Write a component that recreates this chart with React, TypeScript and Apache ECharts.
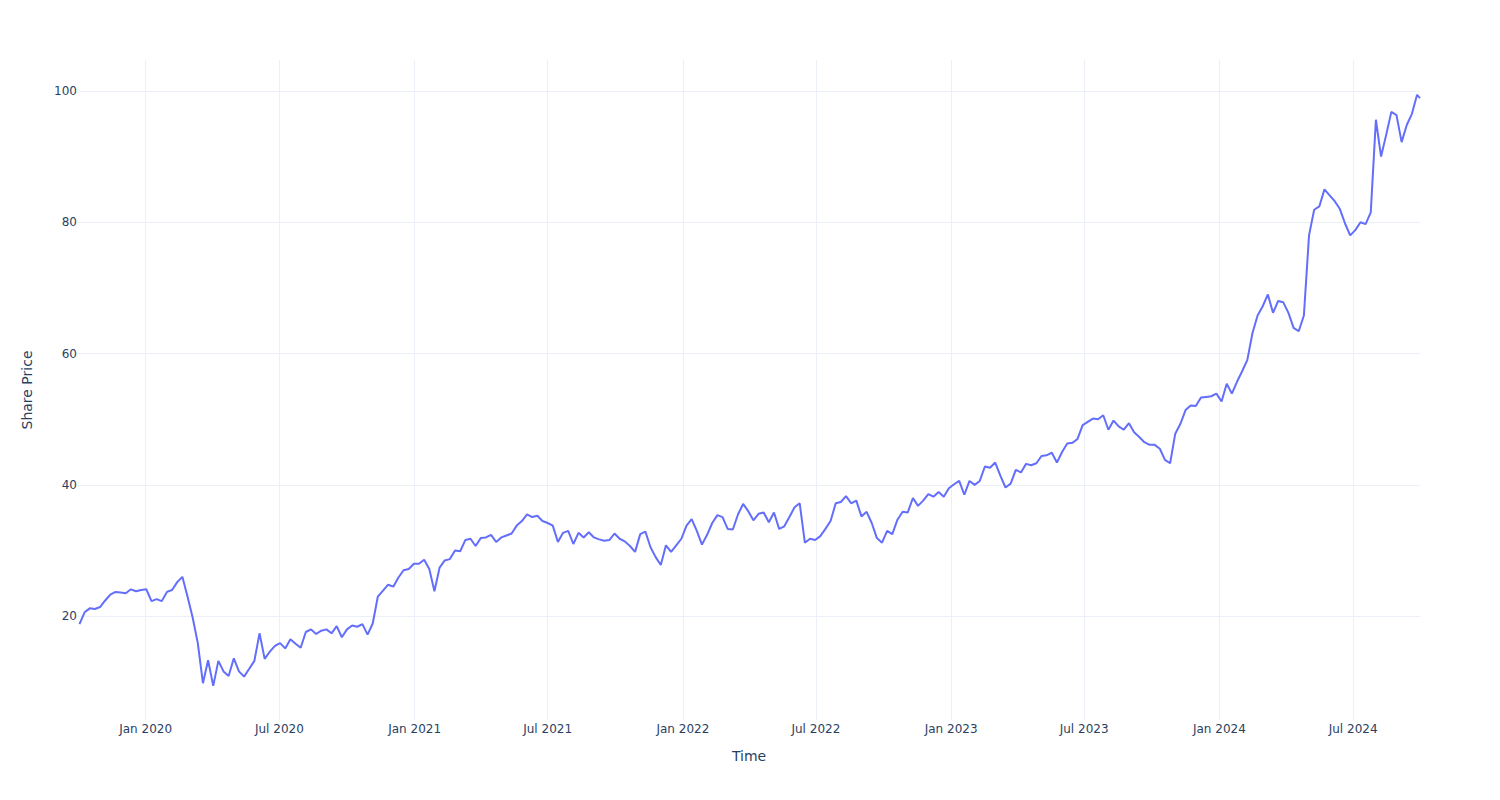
import React, { useEffect, useRef } from "react";
import * as echarts from "echarts";

// Weekly closing share price
const startDate = "2019-10-03";
const stepDays = 7;
const sharePrice = [
  18.8, 20.6, 21.2, 21.1, 21.4, 22.4, 23.3, 23.7, 23.6, 23.5,
  24.1, 23.8, 24.0, 24.1, 22.3, 22.6, 22.3, 23.7, 24.0, 25.2,
  26.0, 23.0, 19.8, 15.9, 9.8, 13.3, 9.4, 13.2, 11.6, 10.9,
  13.6, 11.6, 10.8, 12.0, 13.2, 17.4, 13.5, 14.6, 15.5, 15.9,
  15.1, 16.5, 15.8, 15.2, 17.6, 18.0, 17.3, 17.8, 18.0, 17.4,
  18.5, 16.8, 18.0, 18.6, 18.4, 18.8, 17.2, 18.9, 23.0, 23.9,
  24.8, 24.5, 25.9, 27.0, 27.2, 28.0, 28.0, 28.6, 27.2, 23.8,
  27.4, 28.5, 28.7, 30.0, 29.9, 31.6, 31.8, 30.7, 31.9, 32.0,
  32.4, 31.3, 32.0, 32.3, 32.6, 33.8, 34.5, 35.5, 35.1, 35.3,
  34.5, 34.2, 33.8, 31.3, 32.7, 33.0, 31.0, 32.7, 32.0, 32.8,
  32.0, 31.7, 31.5, 31.6, 32.6, 31.8, 31.4, 30.7, 29.8, 32.5,
  32.9, 30.5, 29.0, 27.8, 30.8, 29.8, 30.8, 31.8, 33.8, 34.8,
  33.0, 30.9, 32.4, 34.2, 35.4, 35.1, 33.3, 33.2, 35.5, 37.1,
  36.0, 34.6, 35.6, 35.8, 34.3, 35.8, 33.3, 33.7, 35.1, 36.6,
  37.2, 31.2, 31.8, 31.6, 32.2, 33.3, 34.5, 37.2, 37.4, 38.3,
  37.2, 37.6, 35.2, 35.9, 34.2, 31.9, 31.2, 33.0, 32.5, 34.7,
  35.9, 35.8, 38.0, 36.8, 37.6, 38.6, 38.2, 38.9, 38.2, 39.5,
  40.1, 40.6, 38.5, 40.6, 40.0, 40.6, 42.8, 42.6, 43.4, 41.4,
  39.6, 40.2, 42.3, 41.9, 43.2, 43.0, 43.3, 44.4, 44.5, 44.9,
  43.4, 45.0, 46.3, 46.4, 47.0, 49.1, 49.6, 50.1, 50.0, 50.6,
  48.4, 49.8, 48.9, 48.4, 49.4, 48.0, 47.3, 46.5, 46.1, 46.1,
  45.5, 43.8, 43.3, 47.8, 49.3, 51.4, 52.1, 52.0, 53.3, 53.4,
  53.5, 53.9, 52.7, 55.4, 53.9, 55.7, 57.3, 59.0, 63.1, 65.8,
  67.2, 69.0, 66.2, 68.0, 67.8, 66.2, 63.9, 63.4, 65.8, 78.0,
  81.9, 82.4, 85.0, 84.1, 83.2, 82.0, 79.8, 78.0, 78.8, 80.0,
  79.7, 81.5, 95.6, 90.0, 93.3, 96.8, 96.3, 92.2, 94.8, 96.5,
  99.4, 98.9,
];
const xRange = ["2019-10-01", "2024-09-30"];
const yRange = [4.2, 104.7];
const monthNames = ["Jan", "Feb", "Mar", "Apr", "May", "Jun", "Jul", "Aug", "Sep", "Oct", "Nov", "Dec"];
const xTitle = "Time";
const yTitle = "Share Price";

const DAY = 86400000;
const FONT = "DejaVu Sans";
const TEXT = "#2a3f5f";
const GRID = "#EBF0F8";

export default function App() {
  const ref = useRef<HTMLDivElement>(null);
  useEffect(() => {
    const chart = echarts.init(ref.current!, null, { renderer: "svg" });
    const t0 = Date.parse(startDate + "T00:00:00Z");
    const tMax = Date.parse(xRange[1] + "T00:00:00Z");
    const data = sharePrice.map((v, i) => [Math.min(t0 + i * stepDays * DAY, tMax), v]);
    chart.setOption({
      animation: false,
      useUTC: true,
      backgroundColor: "#ffffff",
      grid: { left: 78, right: 80, top: 60, bottom: 80, containLabel: false },
      xAxis: {
        type: "time",
        min: Date.parse(xRange[0] + "T00:00:00Z"),
        max: tMax,
        minInterval: (365 * DAY) / 2,
        maxInterval: (365 * DAY) / 2,
        name: xTitle,
        nameLocation: "middle",
        nameGap: 29,
        nameTextStyle: { fontFamily: FONT, fontSize: 14, color: TEXT },
        axisLine: { show: false },
        axisTick: { show: false },
        axisLabel: {
          fontFamily: FONT,
          fontSize: 12,
          color: TEXT,
          margin: 3,
          hideOverlap: false,
          showMinLabel: false,
          showMaxLabel: false,
          formatter: (val: number) => {
            const d = new Date(val);
            const m = d.getUTCMonth();
            if (d.getUTCDate() !== 1 || (m !== 0 && m !== 6)) return "";
            return monthNames[m] + " " + d.getUTCFullYear();
          },
        },
        splitLine: {
          show: true,
          showMinLine: false,
          showMaxLine: false,
          lineStyle: { color: GRID, width: 1 },
        },
      },
      yAxis: {
        type: "value",
        min: yRange[0],
        max: yRange[1],
        name: yTitle,
        nameLocation: "middle",
        nameGap: 44,
        nameTextStyle: { fontFamily: FONT, fontSize: 14, color: TEXT },
        axisLine: { show: false },
        axisTick: { show: false },
        axisLabel: {
          fontFamily: FONT,
          fontSize: 12,
          color: TEXT,
          margin: 1,
          showMinLabel: false,
          showMaxLabel: false,
          formatter: (v: number) => (Math.abs(v % 20) < 1e-6 ? String(v) : ""),
        },
        splitLine: {
          show: true,
          showMinLine: false,
          showMaxLine: false,
          lineStyle: { color: GRID, width: 1 },
        },
      },
      series: [
        {
          type: "line",
          data,
          showSymbol: false,
          symbol: "none",
          lineStyle: { color: "#636efa", width: 2 },
          itemStyle: { color: "#636efa" },
        },
      ],
    });
    return () => chart.dispose();
  }, []);
  return (
    <div
      ref={ref}
      style={{ position: "absolute", left: 0, top: 0, width: 1500, height: 800 }}
    />
  );
}
